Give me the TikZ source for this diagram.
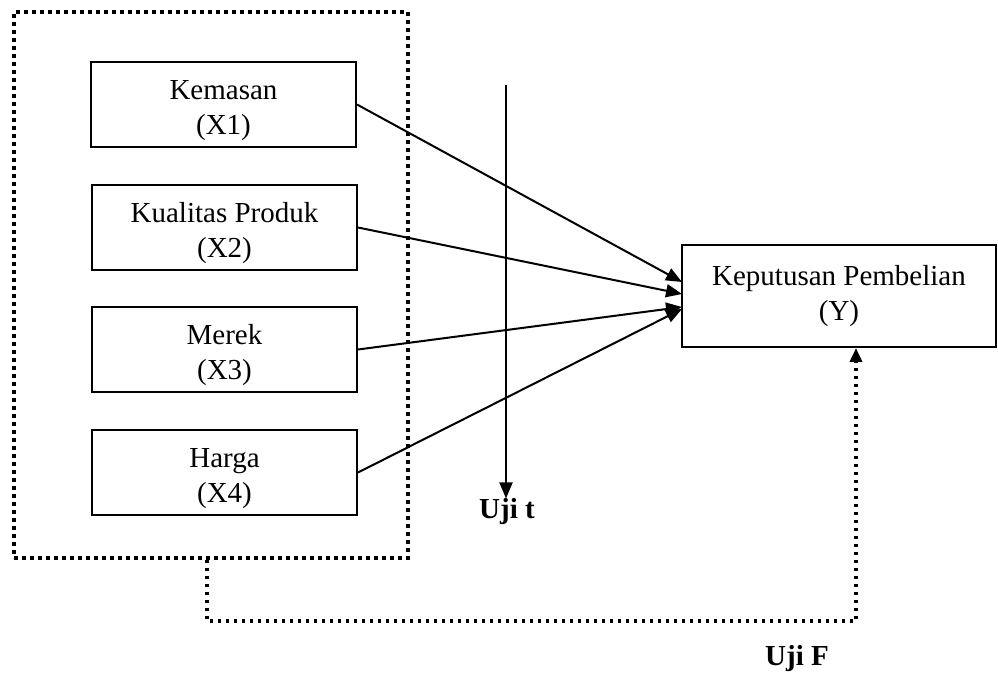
\documentclass[tikz,border=0pt]{standalone}
\usepackage{fontspec}
\setmainfont{Liberation Serif}
\usetikzlibrary{arrows.meta,calc}
\tikzset{
  varbox/.style={draw, line width=1pt, minimum width=132.5pt, minimum height=42.5pt, align=center, inner sep=0pt, font=\fontsize{14.5}{17.5}\selectfont, text height=30.5pt, text depth=0.5pt},
  ybox/.style={draw, line width=1pt, minimum width=157pt, minimum height=51pt, align=center, inner sep=0pt, font=\fontsize{14.5}{17.5}\selectfont},
  frame/.style={draw, line width=1.8pt, dash pattern=on 1.8pt off 2.2pt, minimum width=197pt, minimum height=273pt, inner sep=0pt},
  arr/.style={line width=1pt, -{Triangle[length=8pt,width=6.5pt]}},
  darr/.style={line width=1.8pt, dash pattern=on 1.8pt off 2.2pt, -{Triangle[length=7pt,width=6pt]}},
  lbl/.style={font=\fontsize{14.5}{17.5}\selectfont\bfseries, inner sep=0pt}
}
\begin{document}
\begin{tikzpicture}[x=0.5pt,y=-0.5pt]
\useasboundingbox (0,0) rectangle (998,679);
\node[frame] (frame) at (211,285) {};
\node[varbox] (x1) at (223.5,104.5) {Kemasan\\(X1)};
\node[varbox] (x2) at (224.5,227.5) {Kualitas Produk\\(X2)};
\node[varbox] (x3) at (224.5,349.5) {Merek\\(X3)};
\node[varbox] (x4) at (224.5,472.5) {Harga\\(X4)};
\node[ybox] (y) at (839,296) {Keputusan Pembelian\\(Y)};
\coordinate (t1) at (682,282);
\coordinate (t2) at (682,294);
\coordinate (t3) at (682,307);
\coordinate (t4) at (682,309);
\draw[arr] (x1.east) -- (t1);
\draw[arr] (x2.east) -- (t2);
\draw[arr] (x3.east) -- (t3);
\draw[arr] (x4.east) -- (t4);
\node[lbl] (ujit) at (507,512) {Uji t};
\coordinate (ttop) at (506,85);
\draw[arr] (ttop) -- (ttop |- ujit.north);
\coordinate (f1) at (207,621);
\coordinate (f2) at (856,621);
\draw[darr] (frame.south -| f1) -- (f1) -- (f2) -- (y.south -| f2);
\node[lbl] (ujif) at (797,659) {Uji F};
\end{tikzpicture}
\end{document}
